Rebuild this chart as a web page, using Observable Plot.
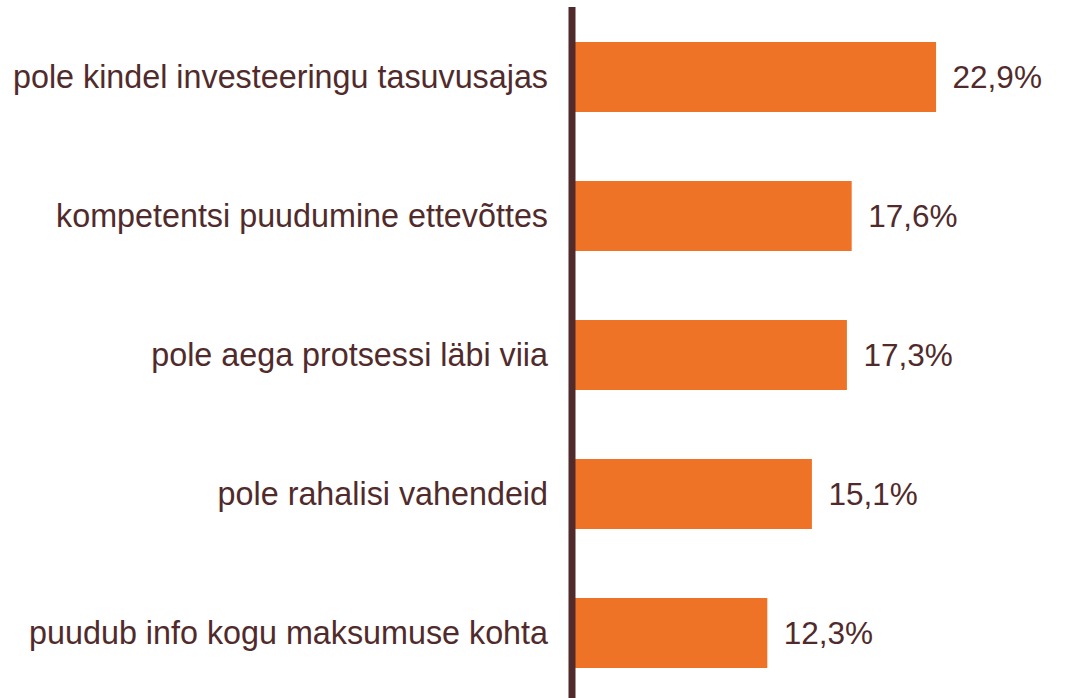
<!DOCTYPE html>
<html>
<head>
<meta charset="utf-8">
<script src="https://cdn.jsdelivr.net/npm/d3@7"></script>
<script src="https://cdn.jsdelivr.net/npm/@observablehq/plot@0.6"></script>
<style>
  html, body { margin: 0; padding: 0; background: #fff; }
  #chart svg { display: block; }
</style>
</head>
<body>
<div id="chart"></div>
<script>
const categories = [
  "pole kindel investeeringu tasuvusajas",
  "kompetentsi puudumine ettevõttes",
  "pole aega protsessi läbi viia",
  "pole rahalisi vahendeid",
  "puudub info kogu maksumuse kohta"
];
const values = [22.9, 17.6, 17.3, 15.1, 12.3];
const valueLabels = ["22,9%", "17,6%", "17,3%", "15,1%", "12,3%"];

const data = categories.map((c, i) => ({category: c, value: values[i], label: valueLabels[i]}));

const textColor = "#512b2b";
const barColor = "#ee7326";

const chart = Plot.plot({
  width: 1073,
  height: 698,
  marginTop: 7,
  marginBottom: 0,
  marginLeft: 571.5,
  marginRight: 0,
  style: {fontFamily: "'Liberation Sans', Arial, sans-serif", background: "#fff", color: textColor},
  x: {domain: [0, 25], range: [571.5, 969.5], axis: null},
  y: {domain: categories, range: [7, 702], paddingInner: 0.5, paddingOuter: 0.25, label: null},
  marks: [
    Plot.barX(data, {x: "value", y: "category", fill: barColor}),
    Plot.text(data, {x: "value", y: "category", text: "label", textAnchor: "start", dx: 16, fontSize: 31.5, fill: textColor}),
    Plot.axisY({tickSize: 0, tickPadding: 24, fontSize: 32.3, fill: textColor, label: null}),
    Plot.ruleX([0], {stroke: textColor, strokeWidth: 7})
  ]
});
document.getElementById("chart").appendChild(chart);
</script>
</body>
</html>
